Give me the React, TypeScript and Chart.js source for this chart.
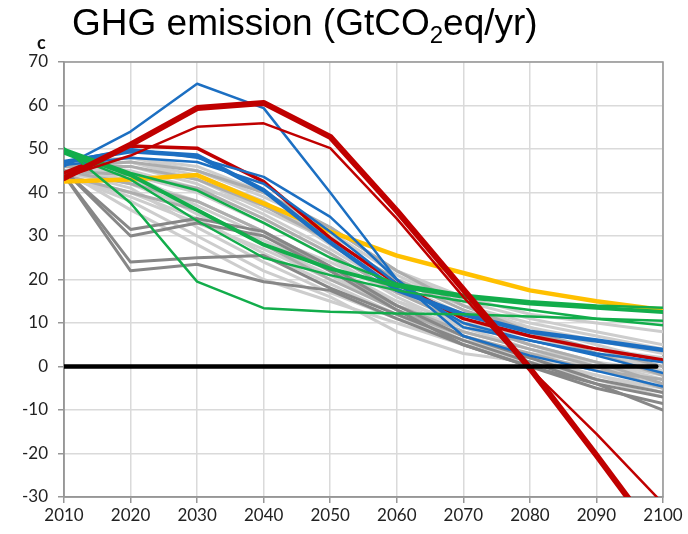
import React, { useEffect, useRef } from "react";
import { Chart, registerables } from "chart.js";

Chart.register(...registerables);

// ---------- DATA ----------
const years = [2010, 2020, 2030, 2040, 2050, 2060, 2070, 2080, 2090, 2100];
const xTickLabels = ["2010", "2020", "2030", "2040", "2050", "2060", "2070", "2080", "2090", "2100"];
const yTickValues = [-30, -20, -10, 0, 10, 20, 30, 40, 50, 60, 70];

const grayLight = [
  [46, 48, 46, 40, 31, 21, 14, 9, 5, 1],
  [46, 47, 44, 38, 28, 19, 12, 7, 3, -1],
  [45, 46, 42, 35, 27, 18, 10, 5, 1, -3],
  [45, 44, 40, 33, 25, 16, 9, 4, 0, -4],
  [44, 43, 38, 31, 23, 15, 8, 4, 1, -2],
  [45, 42, 36, 28, 21, 13, 6, 2, -2, -6],
  [44, 40, 34, 26, 19, 12, 5, 1, -3, -7],
  [46, 45, 41, 37, 30, 22, 15, 11, 8, 5],
  [46, 47, 43, 36, 29, 20, 14, 10, 7, 4],
  [45, 41, 32, 24, 17, 11, 6, 3, 1, -1],
  [44, 38, 30, 22, 16, 8, 3, 1, -2, -5],
  [45, 36, 28, 20, 15, 10, 5, 2, 0, -3],
  [46, 44, 37, 30, 24, 17, 12, 9, 6, 3],
  [47, 48, 45, 39, 32, 22, 16, 12, 10, 8],
  [44, 39, 33, 27, 20, 14, 9, 6, 3, 0],
  [45, 43, 35, 29, 22, 15, 10, 7, 4, 2],
];
const grayMid = [
  [46, 46, 43, 37, 29, 20, 13, 8, 4, 0],
  [45, 44, 41, 34, 26, 17, 10, 5, 1, -4],
  [46, 47, 45, 40, 32, 22, 14, 8, 3, -2],
  [45, 42, 38, 31, 22, 14, 8, 4, 0, -5],
  [44, 40, 36, 28, 20, 13, 7, 3, -1, -3],
];
const grayDark = [
  [44, 24, 25, 25.5, 18, 12, 6, 1, -4, -10],
  [44, 22, 23.5, 19.5, 17.5, 11, 5, 0, -5, -8.5],
  [45, 30, 33, 30, 22, 13, 5, 0, -4, -7],
  [45, 31.5, 34, 31, 23, 14, 7, 2, -3, -6],
];
const yellowValues = [42.5, 43, 44, 37.5, 31, 25.5, 21.5, 17.5, 15, 13];
const greenThin = [
  [50.2, 37.6, 19.5, 13.4, 12.6, 12.2, 12, 11.5, 11, 10.5],
  [50, 44.5, 40.5, 33, 25, 19, 16.5, 15, 14, 13.5],
  [49, 43, 33.5, 25, 21, 17.5, 15, 13, 11, 9.5],
];
const greenThick = [49.5, 44, 36, 28, 22.5, 18.5, 16, 14.5, 13.5, 12.5];
const blueThin = [
  [46, 54, 65, 59.4, 40, 20, 9, 6, 2.5, -1.5],
  [47, 50, 48, 43.6, 34.4, 20, 7, 2.5, -1, -4.6],
  [46.3, 48, 47, 42, 31, 19, 10, 6, 3, 1],
];
const blueThick = [47, 49.5, 48.5, 40.5, 28.5, 17.6, 12, 8, 6, 3.8];
const redThick = [
  [43.3, 51, 59.4, 60.6, 52.8, 35.8, 17.7, -0.4, -20.4, -41],
];
const redMedium = [44.5, 50.7, 50.2, 42.5, 29.5, 19, 11, 7, 4, 1.5];
const redThin = [43.5, 48.5, 55.1, 55.9, 50.2, 34, 16, -0.5, -15.5, -31.5];
const zeroLineYears = [2010, 2099];
const zeroLineValues = [0, 0];

// ---------- STYLES ----------
const C_LIGHT = "#cdcdcd";
const C_MID = "#adadad";
const C_DARK = "#878787";
const C_YELLOW = "#ffc000";
const C_GREEN = "#12ad4b";
const C_BLUE = "#1c6fc2";
const C_RED = "#c00000";

function series(values: number[], color: string, width: number, xs: number[] = years) {
  return {
    data: values.map((v, i) => ({ x: xs[i], y: v })),
    borderColor: color,
    backgroundColor: color,
    borderWidth: width,
    pointRadius: 0,
    tension: 0,
    fill: false,
    borderJoinStyle: "round" as const,
    borderCapStyle: "round" as const,
    clip: 0,
  };
}

const framePlugin = {
  id: "frame",
  beforeDatasetsDraw(chart: any) {
    const { ctx, chartArea: a } = chart;
    ctx.save();
    ctx.strokeStyle = "#969696";
    ctx.lineWidth = 1.5;
    ctx.strokeRect(a.left, a.top, a.right - a.left, a.bottom - a.top);
    ctx.restore();
  },
};

export default function App() {
  const ref = useRef<HTMLCanvasElement | null>(null);

  useEffect(() => {
    if (!ref.current) return;
    const bottomToTop: any[] = [];
    grayLight.forEach((v) => bottomToTop.push(series(v, C_LIGHT, 3)));
    grayMid.forEach((v) => bottomToTop.push(series(v, C_MID, 3)));
    grayDark.forEach((v) => bottomToTop.push(series(v, C_DARK, 3)));
    bottomToTop.push(series(yellowValues, C_YELLOW, 4.5));
    bottomToTop.push(series(redMedium, C_RED, 3.5));
    blueThin.forEach((v) => bottomToTop.push(series(v, C_BLUE, 2.5)));
    bottomToTop.push(series(blueThick, C_BLUE, 4.5));
    greenThin.forEach((v) => bottomToTop.push(series(v, C_GREEN, 2.5)));
    bottomToTop.push(series(greenThick, C_GREEN, 4));
    bottomToTop.push(series(redThin, C_RED, 2.5));
    redThick.forEach((v) => bottomToTop.push(series(v, C_RED, 6)));
    bottomToTop.push(series(zeroLineValues, "#000000", 4.5, zeroLineYears));
    const datasets = bottomToTop.reverse();

    const tickFont = { family: "Lato, 'Open Sans', sans-serif", size: 17 };

    const chart = new Chart(ref.current, {
      type: "line",
      data: { datasets },
      plugins: [framePlugin],
      options: {
        animation: false,
        responsive: false,
        layout: { padding: { top: 62, right: 25, left: 0, bottom: 0 } },
        plugins: { legend: { display: false }, tooltip: { enabled: false }, title: { display: false } },
        scales: {
          x: {
            type: "linear",
            min: years[0],
            max: years[years.length - 1],
            afterBuildTicks: (s: any) => {
              s.ticks = years.map((v) => ({ value: v }));
            },
            afterFit: (s: any) => {
              s.height = 37;
            },
            ticks: {
              callback: (v: any) => xTickLabels[years.indexOf(Number(v))] ?? "",
              color: "#222",
              font: tickFont,
              padding: 2,
              maxRotation: 0,
              autoSkip: false,
            },
            grid: { color: "#dadada", lineWidth: 1.5, tickLength: 6, tickColor: "#969696" },
            border: { color: "#969696", width: 1.5 },
          },
          y: {
            type: "linear",
            min: yTickValues[0],
            max: yTickValues[yTickValues.length - 1],
            afterBuildTicks: (s: any) => {
              s.ticks = yTickValues.map((v) => ({ value: v }));
            },
            afterFit: (s: any) => {
              s.width = 64;
            },
            ticks: {
              callback: (v: any) => String(v),
              color: "#222",
              font: tickFont,
              padding: 10,
            },
            grid: { color: "#dadada", lineWidth: 1.5, tickLength: 6, tickColor: "#969696" },
            border: { color: "#969696", width: 1.5 },
          },
        },
      },
    });
    return () => chart.destroy();
  }, []);

  return (
    <div style={{ position: "absolute", left: 0, top: 0, width: 688, height: 534, background: "#fff" }}>
      <canvas ref={ref} width={688} height={534} style={{ position: "absolute", left: 0, top: 0 }} />
      <div
        style={{
          position: "absolute",
          left: 72,
          top: 0,
          fontFamily: '"Liberation Sans", Arial, sans-serif',
          fontSize: 37,
          lineHeight: "46px",
          color: "#000",
          whiteSpace: "nowrap",
        }}
      >
        GHG emission (GtCO
        <span style={{ fontSize: 24, position: "relative", top: 8 }}>2</span>
        eq/yr)
      </div>
      <div
        style={{
          position: "absolute",
          left: 37,
          top: 31,
          fontFamily: "Lato, 'Open Sans', sans-serif",
          fontWeight: 700,
          fontSize: 18,
          color: "#111",
        }}
      >
        c
      </div>
    </div>
  );
}
